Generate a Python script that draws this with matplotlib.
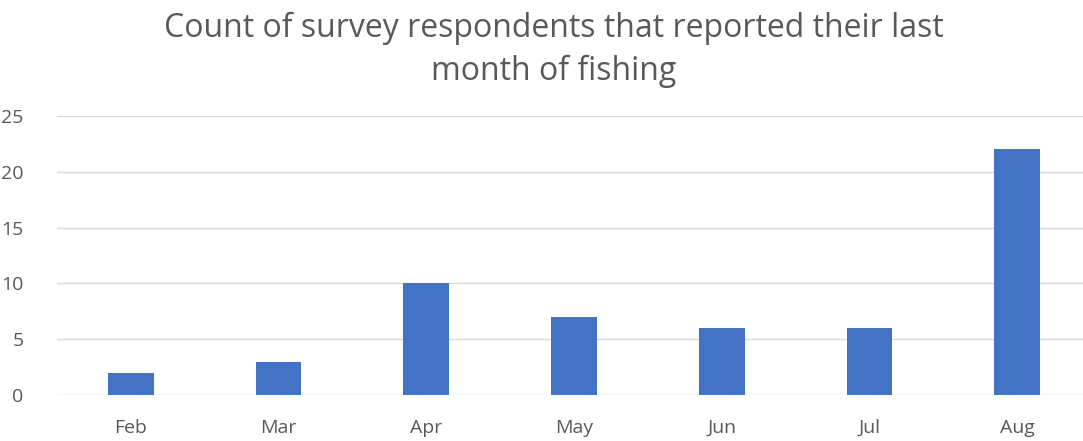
import numpy as np
import matplotlib.pyplot as plt

plt.rcParams['font.family'] = ['Open Sans', 'DejaVu Sans']

months = ["Feb", "Mar", "Apr", "May", "Jun", "Jul", "Aug"]
counts = [2, 3, 10, 7, 6, 6, 22]

grey = "#595959"

fig = plt.figure(figsize=(10.83, 4.41), dpi=100)
ax = fig.add_axes([57/1083, 46/441, 1034/1083, 279/441])

x = np.arange(len(months))
ax.bar(x, counts, width=0.31, color="#4472C4", zorder=3)

ax.set_xlim(-0.5, len(months) - 0.5)
ax.set_ylim(0, 25)
ax.set_yticks(np.arange(0, 26, 5))
ax.set_xticks(x)
ax.set_xticklabels(months)
ax.grid(axis="y", color="#D9D9D9", linewidth=1, zorder=0)
for s in ax.spines.values():
    s.set_visible(False)
ax.tick_params(length=0, colors=grey, labelsize=14)
ax.tick_params(axis="y", pad=24)
ax.tick_params(axis="x", pad=17)

fig.text(554/1083, 1 - 50/441, "Count of survey respondents that reported their last\nmonth of fishing",
         ha="center", va="center", fontsize=23, color=grey, linespacing=1.4)

fig.savefig("out.png", dpi=100)
